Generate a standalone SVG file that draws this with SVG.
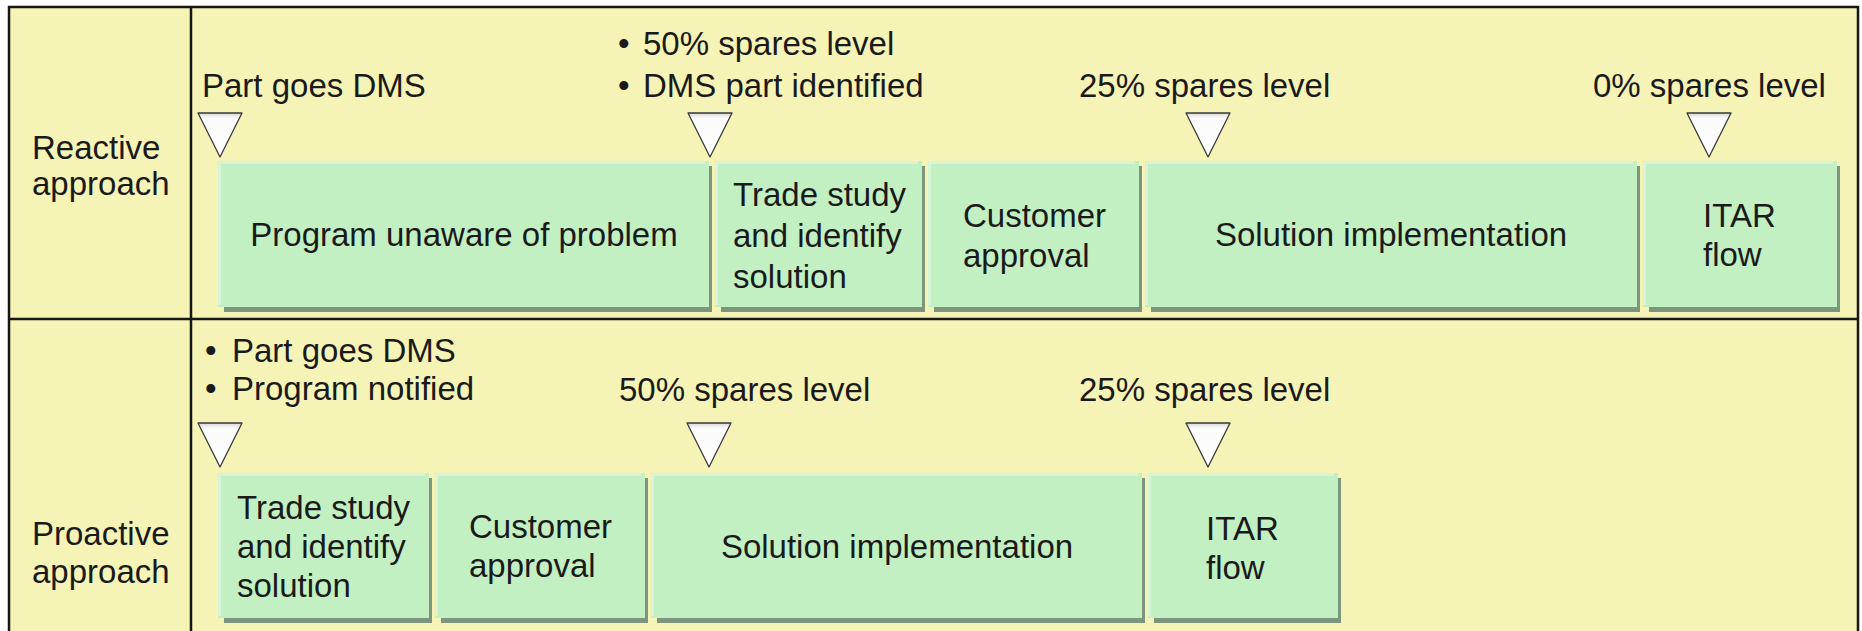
<svg xmlns="http://www.w3.org/2000/svg" width="1862" height="631" viewBox="0 0 1862 631">
  <defs>
    <linearGradient id="triGrad" x1="0" y1="0" x2="0" y2="1">
      <stop offset="0" stop-color="#d6d6d6"/>
      <stop offset="0.12" stop-color="#fbfbfb"/>
      <stop offset="1" stop-color="#ffffff"/>
    </linearGradient>
    <style>
      .frame { fill: #F6F3B6; }
      .rule { stroke: #161616; stroke-width: 2.5; fill: none; }
      .box { fill: #C2F0C2; }
      .shadow { fill: #7D957C; }
      .hl { stroke: #DCF5DA; stroke-width: 2.5; fill: none; }
      .tri { fill: url(#triGrad); stroke: #3a3a3a; stroke-width: 1.3; stroke-linejoin: round; }
      text { font-family: "Liberation Sans", Arial, sans-serif; font-size: 33px; fill: #1a1a1a; }
      .c { text-anchor: middle; }
    </style>
  </defs>

  <rect width="1862" height="631" fill="#ffffff"/>

  <!-- table frame -->
  <g id="frame">
    <rect class="frame" x="9" y="7" width="1849" height="640"/>
    <rect class="rule" x="9" y="7" width="1849" height="640"/>
    <line class="rule" x1="191" y1="7" x2="191" y2="631"/>
    <line class="rule" x1="9" y1="319" x2="1858" y2="319"/>
  </g>

  <!-- row headers -->
  <g id="row-reactive">
    <text x="32" y="159">Reactive</text>
    <text x="32" y="195">approach</text>
  </g>
  <g id="row-proactive">
    <text x="32" y="545">Proactive</text>
    <text x="32" y="583">approach</text>
  </g>

  <!-- reactive row: milestones -->
  <g id="r-m1">
    <text x="202" y="97">Part goes DMS</text>
    <polygon class="tri" points="198,113 242,113 220,157"/>
  </g>
  <g id="r-m2">
    <text x="618" y="55">•<tspan x="643">50% spares level</tspan></text>
    <text x="618" y="97">•<tspan x="643">DMS part identified</tspan></text>
    <polygon class="tri" points="688,113 732,113 710,157"/>
  </g>
  <g id="r-m3">
    <text x="1079" y="97">25% spares level</text>
    <polygon class="tri" points="1186,113 1230,113 1208,157"/>
  </g>
  <g id="r-m4">
    <text x="1593" y="97">0% spares level</text>
    <polygon class="tri" points="1687,113 1731,113 1709,157"/>
  </g>

  <!-- reactive row: phases -->
  <g id="r-unaware">
    <rect class="shadow" x="224" y="166" width="488" height="146"/>
    <rect class="box" x="218" y="161" width="491" height="146"/>
    <polyline class="hl" points="219.5,305 219.5,162.5 705,162.5"/>
    <text class="c" x="464" y="246">Program unaware of problem</text>
  </g>
  <g id="r-trade">
    <rect class="shadow" x="721" y="166" width="204" height="146"/>
    <rect class="box" x="715" y="161" width="207" height="146"/>
    <polyline class="hl" points="716.5,305 716.5,162.5 918,162.5"/>
    <text x="733" y="206">Trade study</text>
    <text x="733" y="247">and identify</text>
    <text x="733" y="288">solution</text>
  </g>
  <g id="r-customer">
    <rect class="shadow" x="934" y="166" width="208" height="146"/>
    <rect class="box" x="928" y="161" width="211" height="146"/>
    <polyline class="hl" points="929.5,305 929.5,162.5 1135,162.5"/>
    <text x="963" y="227">Customer</text>
    <text x="963" y="267">approval</text>
  </g>
  <g id="r-solution">
    <rect class="shadow" x="1151" y="166" width="489" height="146"/>
    <rect class="box" x="1145" y="161" width="492" height="146"/>
    <polyline class="hl" points="1146.5,305 1146.5,162.5 1633,162.5"/>
    <text class="c" x="1391" y="246">Solution implementation</text>
  </g>
  <g id="r-itar">
    <rect class="shadow" x="1649" y="166" width="191" height="146"/>
    <rect class="box" x="1643" y="161" width="194" height="146"/>
    <polyline class="hl" points="1644.5,305 1644.5,162.5 1833,162.5"/>
    <text x="1703" y="227">ITAR</text>
    <text x="1703" y="266">flow</text>
  </g>

  <!-- proactive row: milestones -->
  <g id="p-m1">
    <text x="205" y="362">•<tspan x="232">Part goes DMS</tspan></text>
    <text x="205" y="400">•<tspan x="232">Program notified</tspan></text>
    <polygon class="tri" points="198,423 242,423 220,467"/>
  </g>
  <g id="p-m2">
    <text x="619" y="401">50% spares level</text>
    <polygon class="tri" points="687,423 731,423 709,467"/>
  </g>
  <g id="p-m3">
    <text x="1079" y="401">25% spares level</text>
    <polygon class="tri" points="1186,423 1230,423 1208,467"/>
  </g>

  <!-- proactive row: phases -->
  <g id="p-trade">
    <rect class="shadow" x="224" y="478" width="208" height="145"/>
    <rect class="box" x="218" y="473" width="211" height="145"/>
    <polyline class="hl" points="219.5,616 219.5,474.5 425,474.5"/>
    <text x="237" y="519">Trade study</text>
    <text x="237" y="558">and identify</text>
    <text x="237" y="597">solution</text>
  </g>
  <g id="p-customer">
    <rect class="shadow" x="441" y="478" width="207" height="145"/>
    <rect class="box" x="435" y="473" width="210" height="145"/>
    <polyline class="hl" points="436.5,616 436.5,474.5 641,474.5"/>
    <text x="469" y="538">Customer</text>
    <text x="469" y="577">approval</text>
  </g>
  <g id="p-solution">
    <rect class="shadow" x="657" y="478" width="488" height="145"/>
    <rect class="box" x="651" y="473" width="491" height="145"/>
    <polyline class="hl" points="652.5,616 652.5,474.5 1138,474.5"/>
    <text class="c" x="897" y="558">Solution implementation</text>
  </g>
  <g id="p-itar">
    <rect class="shadow" x="1154" y="478" width="187" height="145"/>
    <rect class="box" x="1148" y="473" width="190" height="145"/>
    <polyline class="hl" points="1149.5,616 1149.5,474.5 1334,474.5"/>
    <text x="1206" y="540">ITAR</text>
    <text x="1206" y="579">flow</text>
  </g>
</svg>
